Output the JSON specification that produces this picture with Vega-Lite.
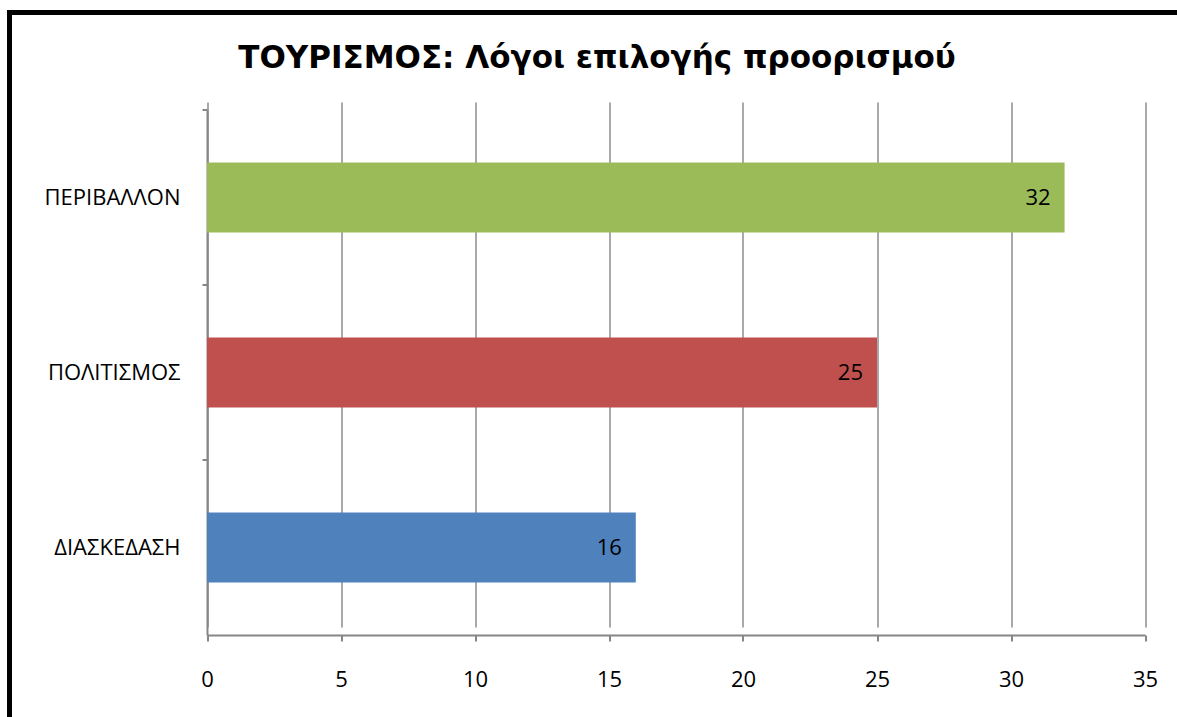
{
  "$schema": "https://vega.github.io/schema/vega-lite/v6.json",
  "autosize": {"type": "none"},
  "padding": {"left": 9.5, "top": 12.5, "right": 0, "bottom": 0},
  "width": 1175,
  "height": 712,
  "background": "white",
  "config": {
    "view": {"stroke": "black", "strokeWidth": 5},
    "font": "Open Sans"
  },
  "title": {
    "text": "ΤΟΥΡΙΣΜΟΣ: Λόγοι επιλογής προορισμού",
    "font": "DejaVu Sans",
    "fontSize": 31,
    "fontWeight": "bold",
    "color": "black",
    "anchor": "middle",
    "frame": "group",
    "offset": -62
  },
  "data": {
    "values": [
      {"reason": "ΠΕΡΙΒΑΛΛΟΝ", "count": 32},
      {"reason": "ΠΟΛΙΤΙΣΜΟΣ", "count": 25},
      {"reason": "ΔΙΑΣΚΕΔΑΣΗ", "count": 16}
    ]
  },
  "encoding": {
    "y": {
      "field": "reason",
      "type": "nominal",
      "sort": ["ΠΕΡΙΒΑΛΛΟΝ", "ΠΟΛΙΤΙΣΜΟΣ", "ΔΙΑΣΚΕΔΑΣΗ"],
      "scale": {"range": [97.5, 622.5], "paddingInner": 0.6, "paddingOuter": 0.3},
      "axis": {
        "title": null,
        "orient": "left",
        "offset": -197.5,
        "domainColor": "#868686",
        "domainWidth": 2,
        "tickColor": "#868686",
        "tickWidth": 2,
        "tickSize": 5,
        "bandPosition": -0.75,
        "labelFont": "Open Sans",
        "labelFontSize": 22,
        "labelColor": "black",
        "labelPadding": 22,
        "grid": false
      }
    },
    "x": {
      "field": "count",
      "type": "quantitative",
      "scale": {"domain": [0, 35], "range": [197.5, 1135.5], "nice": false, "zero": true},
      "axis": {
        "title": null,
        "orient": "bottom",
        "offset": -89.5,
        "values": [0, 5, 10, 15, 20, 25, 30, 35],
        "grid": true,
        "gridColor": "#8c8c8c",
        "gridWidth": 1.5,
        "domainColor": "#868686",
        "domainWidth": 2,
        "tickColor": "#868686",
        "tickWidth": 2,
        "tickSize": 6,
        "labelFlush": false,
        "labelFont": "Open Sans",
        "labelFontSize": 22,
        "labelColor": "black",
        "labelPadding": 28
      }
    }
  },
  "layer": [
    {
      "mark": {"type": "bar"},
      "encoding": {
        "color": {
          "field": "reason",
          "type": "nominal",
          "scale": {
            "domain": ["ΠΕΡΙΒΑΛΛΟΝ", "ΠΟΛΙΤΙΣΜΟΣ", "ΔΙΑΣΚΕΔΑΣΗ"],
            "range": ["#9BBB59", "#C0504D", "#4F81BD"]
          },
          "legend": null
        }
      }
    },
    {
      "mark": {"type": "text", "align": "right", "baseline": "middle", "dx": -14, "font": "Open Sans", "fontSize": 22, "color": "black"},
      "encoding": {
        "text": {"field": "count", "type": "quantitative"}
      }
    }
  ]
}
